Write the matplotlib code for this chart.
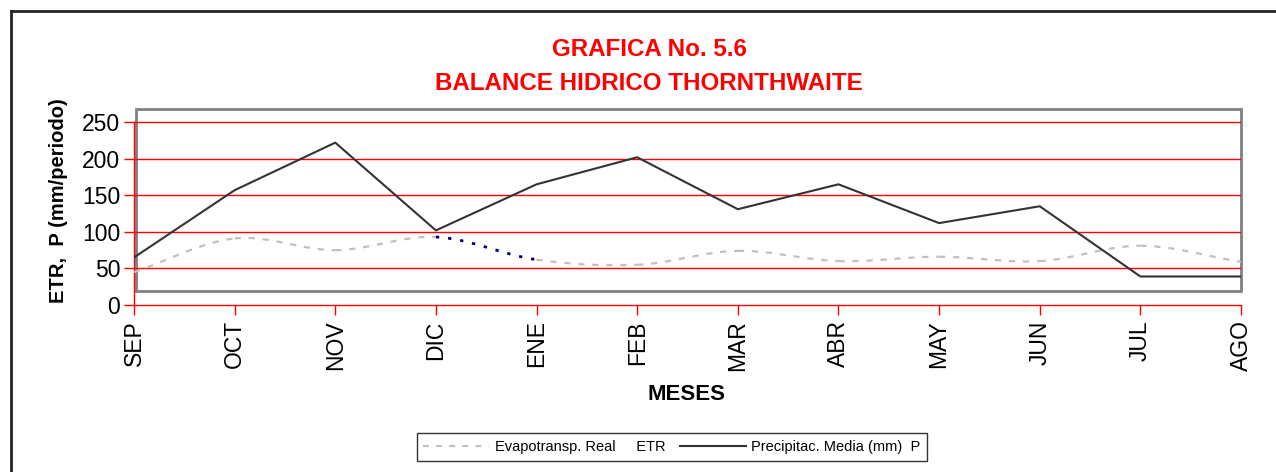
import numpy as np
import matplotlib
matplotlib.use("Agg")
import matplotlib.pyplot as plt
from matplotlib.lines import Line2D
from matplotlib.patches import Rectangle

plt.rcParams["font.family"] = ["Liberation Sans", "DejaVu Sans"]

meses = ["SEP", "OCT", "NOV", "DIC", "ENE", "FEB", "MAR", "ABR", "MAY", "JUN", "JUL", "AGO"]
etr = [45, 91, 75, 93, 62, 55, 74, 60, 66, 60, 81, 59]
prec = [65, 157, 222, 102, 165, 202, 131, 165, 112, 135, 39, 39]
y_ticks = [0, 50, 100, 150, 200, 250]


def smooth(xs, ys, n=30):
    # catmull-rom style curve through the points (like excel "smoothed line")
    xs = np.asarray(xs, float)
    ys = np.asarray(ys, float)
    px = np.concatenate([[2 * xs[0] - xs[1]], xs, [2 * xs[-1] - xs[-2]]])
    py = np.concatenate([[2 * ys[0] - ys[1]], ys, [2 * ys[-1] - ys[-2]]])
    out_x, out_y = [], []
    for i in range(1, len(px) - 2):
        t = np.linspace(0, 1, n)
        for arr, p in ((out_x, px), (out_y, py)):
            p0, p1, p2, p3 = p[i - 1], p[i], p[i + 1], p[i + 2]
            arr.append(0.5 * (2 * p1 + (-p0 + p2) * t
                              + (2 * p0 - 5 * p1 + 4 * p2 - p3) * t ** 2
                              + (-p0 + 3 * p1 - 3 * p2 + p3) * t ** 3))
    return out_x, out_y


fig = plt.figure(figsize=(12.76, 4.72), dpi=100)
ax = fig.add_axes([134 / 1276, 1 - 305 / 472, 1107 / 1276, 196 / 472])

x = np.arange(len(meses))
ax.set_xlim(0, len(meses) - 1)
ax.set_ylim(0, 268)

# grey plot-area box
ax.add_patch(Rectangle((0.02, 19), len(meses) - 1 - 0.02, 249, fill=False,
                       edgecolor="#808080", lw=2, zorder=1, clip_on=False))

for v in y_ticks[1:]:
    ax.axhline(v, color="red", lw=1, zorder=2)

sx, sy = smooth(x, etr)
for i, (cx, cy) in enumerate(zip(sx, sy)):
    if meses[i] == "DIC":
        ax.plot(cx, cy, color="#000080", lw=2, ls=(0, (1.2, 3.2)), zorder=3)
    else:
        ax.plot(cx, cy, color="#c0c0c0", lw=1.6, ls=(0, (2.8, 3.5)), zorder=3)

ax.plot(x, prec, color="#333333", lw=1.5, zorder=4)

for s in ["top", "right"]:
    ax.spines[s].set_visible(False)
for s in ["left", "bottom"]:
    ax.spines[s].set_color("red")
    ax.spines[s].set_linewidth(1)
ax.spines["left"].set_bounds(0, 250)

ax.set_yticks(y_ticks)
ax.set_xticks(x)
ax.set_xticklabels(meses, rotation=90)
ax.tick_params(axis="both", colors="red", labelcolor="black", labelsize=16.5,
               length=7, width=1)
ax.tick_params(axis="y", pad=3)
ax.tick_params(axis="x", pad=4)

ax.set_ylabel("ETR,  P (mm/periodo)", fontsize=14.5, fontweight="bold")
ax.yaxis.set_label_coords(-0.06, 0.53)

fig.text(649 / 1276, 1 - 50 / 472, "GRAFICA No. 5.6", color="red", fontsize=17.4,
         fontweight="bold", ha="center", va="center")
fig.text(649 / 1276, 1 - 83 / 472, "BALANCE HIDRICO THORNTHWAITE", color="red",
         fontsize=17.4, fontweight="bold", ha="center", va="center")
fig.text(687 / 1276, 1 - 395 / 472, "MESES", fontsize=16, fontweight="bold",
         ha="center", va="center")

# outer frame
fig.add_artist(Line2D([11 / 1276, 1], [1 - 11 / 472, 1 - 11 / 472],
                      color="#222222", lw=2, transform=fig.transFigure))
fig.add_artist(Line2D([11 / 1276, 11 / 1276], [0, 1 - 11 / 472],
                      color="#222222", lw=2, transform=fig.transFigure))

handles = [Line2D([], [], color="#c0c0c0", lw=1.5, ls=(0, (2.8, 3.5))),
           Line2D([], [], color="#333333", lw=1.5)]
leg = fig.legend(handles, ["Evapotransp. Real     ETR", "Precipitac. Media (mm)  P"],
                 loc="center", bbox_to_anchor=(672 / 1276, 1 - 447 / 472), ncol=2,
                 fontsize=10.5, frameon=True, fancybox=False, handlelength=4.5,
                 columnspacing=1.0, borderpad=0.45, handletextpad=0.4,
                 borderaxespad=0)
leg.get_frame().set_edgecolor("black")
leg.get_frame().set_linewidth(1)

fig.savefig("out.png", dpi=100)
